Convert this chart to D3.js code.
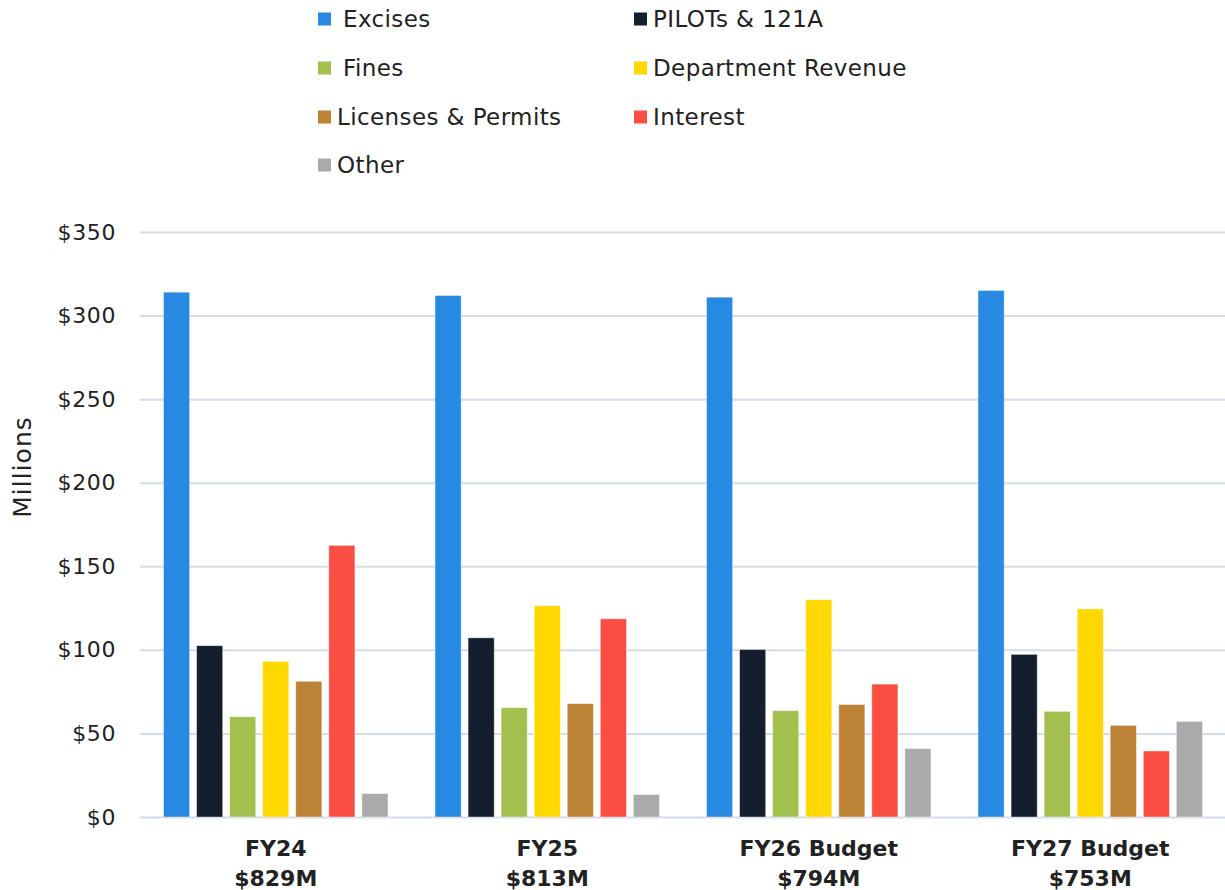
<!DOCTYPE html>
<html>
<head>
<meta charset="utf-8">
<script src="https://cdn.jsdelivr.net/npm/d3@7"></script>
<style>
  body { margin: 0; background: #fff; }
  text { font-family: "DejaVu Sans", sans-serif; fill: #222; }
</style>
</head>
<body>
<div id="chart"></div>
<script>
// data
const years = ["FY24", "FY25", "FY26 Budget", "FY27 Budget"];
const totals = ["$829M", "$813M", "$794M", "$753M"];
const series = ["Excises", "PILOTs & 121A", "Fines", "Department Revenue",
                "Licenses & Permits", "Interest", "Other"];
const colors = ["#2889e3", "#131f2e", "#a3c04f", "#ffd800", "#bc8336", "#fb4e42", "#aaaaaa"];
const excises = [314, 312, 311, 315];
const pilots = [102.5, 107.2, 100.2, 97.3];
const fines = [60, 65.4, 63.6, 63.2];
const deptRevenue = [93.1, 126.4, 130, 124.5];
const licenses = [81.2, 67.8, 67.3, 54.8];
const interest = [162.5, 118.6, 79.5, 39.5];
const other = [14, 13.4, 41, 57.2];
const yTicks = [0, 50, 100, 150, 200, 250, 300, 350];

const values = [excises, pilots, fines, deptRevenue, licenses, interest, other];

var width = 1225, height = 890;
var svg = d3.select("#chart")
    .append("svg")
    .attr("width", width)
    .attr("height", height);

var y = d3.scaleLinear().domain([0, 350]).range([817, 232]);
var x0 = d3.scaleBand().domain(years).range([140, 1226])
    .paddingInner(0.149).paddingOuter(0.0745);
var x1 = d3.scaleBand().domain(series).range([0, x0.bandwidth()])
    .paddingInner(0.21).paddingOuter(0.1);

// gridlines + y labels
var yAxis = d3.axisLeft(y)
    .tickValues(yTicks)
    .tickSize(-(1226 - 140))
    .tickPadding(24)
    .tickFormat(d => "$" + d);
var ga = svg.append("g")
    .attr("transform", "translate(140,0)")
    .call(yAxis);
ga.select(".domain").remove();
ga.selectAll(".tick line").attr("stroke", "#d5dbe8").attr("stroke-width", 2);
ga.selectAll(".tick text")
    .attr("font-size", "22px")
    .attr("letter-spacing", "0.6px")
    .attr("fill", "#222")
    .attr("x", -24);

svg.append("text")
    .attr("transform", "translate(22,467) rotate(-90)")
    .attr("text-anchor", "middle")
    .attr("dy", "0.35em")
    .attr("font-size", "25px")
    .attr("letter-spacing", "1px")
    .text("Millions");

// bars
var groups = svg.selectAll("g.year")
    .data(years)
    .enter().append("g")
    .attr("class", "year")
    .attr("transform", d => "translate(" + x0(d) + ",0)");

groups.selectAll("rect")
    .data((d, i) => series.map((s, k) => ({ s: s, v: values[k][i], c: colors[k] })))
    .enter().append("rect")
    .attr("x", d => x1(d.s))
    .attr("width", x1.bandwidth())
    .attr("y", d => y(d.v))
    .attr("height", d => y(0) - y(d.v))
    .attr("fill", d => d.c)
    .attr("stroke", "#fff")
    .attr("stroke-opacity", 0.5)
    .attr("stroke-width", 0.8);

// category labels
for (var i = 0; i < years.length; i++) {
    var cx = x0(years[i]) + x0.bandwidth() / 2;
    svg.append("text")
        .attr("x", cx).attr("y", 856)
        .attr("text-anchor", "middle")
        .attr("font-size", "22px")
        .attr("font-weight", "bold")
        .attr("fill", "#1a2230")
        .text(years[i]);
    svg.append("text")
        .attr("x", cx).attr("y", 886)
        .attr("text-anchor", "middle")
        .attr("font-size", "22px")
        .attr("font-weight", "bold")
        .attr("fill", "#1a2230")
        .text(totals[i]);
}

// legend, two columns
var legX = [318, 634];
var legY = [19, 68, 117, 165];
series.forEach(function (s, k) {
    var col = k % 2, row = Math.floor(k / 2);
    var lx = legX[col], ly = legY[row];
    svg.append("rect")
        .attr("x", lx).attr("y", ly - 6.5)
        .attr("width", 13).attr("height", 13)
        .attr("fill", colors[k]);
    var gap = (col === 0 && (k === 0 || k === 2)) ? 25 : 19;
    svg.append("text")
        .attr("x", lx + gap).attr("y", ly)
        .attr("dy", "0.35em")
        .attr("font-size", "23px")
        .attr("letter-spacing", "0.4px")
        .text(s);
});
</script>
</body>
</html>
